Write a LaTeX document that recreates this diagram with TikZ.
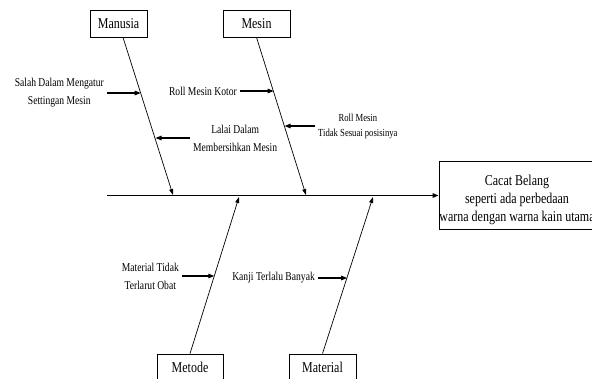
\documentclass[tikz,border=0pt]{standalone}
\usepackage{fontspec}
\setmainfont[FakeStretch=0.8]{Liberation Serif}
\usetikzlibrary{arrows.meta,calc}
\begin{document}
\begin{tikzpicture}[x=1pt,y=-1pt,
  catbox/.style={draw, line width=0.8pt, inner sep=0pt, minimum height=27pt, font=\fontsize{15}{18}\selectfont},
  effbox/.style={draw, line width=0.8pt, inner sep=0pt, align=center, minimum width=156pt, minimum height=68pt, font=\fontsize{15}{18}\selectfont},
  lab/.style={inner xsep=3pt, inner ysep=0pt, align=center, font=\fontsize{12}{18}\selectfont},
  labs/.style={inner xsep=3pt, inner ysep=0pt, align=center, font=\fontsize{10.8}{15}\selectfont},
  bone/.style={line width=0.7pt, -{Triangle[length=6pt,width=4pt]}},
  cause/.style={line width=1.1pt, -{Triangle[length=6pt,width=4.5pt]}},
  spine/.style={line width=1.3pt, -{Triangle[length=6pt,width=4.5pt]}}]
\useasboundingbox (0,0) rectangle (592,378);
\clip (0,0) rectangle (592,378);
% category boxes
\node[catbox, minimum width=57pt] (manusia) at (118.5,23.5) {Manusia};
\node[catbox, minimum width=67pt] (mesin) at (256.5,23.5) {Mesin};
\node[catbox, minimum width=66pt] (metode) at (190,367.5) {Metode};
\node[catbox, minimum width=67pt] (material) at (322.5,367.5) {Material};
% effect
\node[effbox] (effect) at (517,195.5) {\rule{0pt}{19pt}Cacat Belang\\seperti ada perbedaan\\warna dengan warna kain utama};
% spine
\coordinate (sp) at (107,195.5);
\draw[spine] (sp) -- (effect.west);
% bone ends
\coordinate (maE) at (173,195);
\coordinate (meE) at (306,195);
\coordinate (mtE) at (239,197);
\coordinate (mlE) at (373,197);
\draw[bone] ([xshift=4.5pt]manusia.south) -- (maE);
\draw[bone] (mesin.south) -- (meE);
\draw[bone] (metode.north) -- (mtE);
\draw[bone] (material.north) -- (mlE);
% cause points on bones
\coordinate (c1) at (140.7,93);
\coordinate (c2) at (155.5,138);
\coordinate (c3) at (273.7,91);
\coordinate (c4) at (284.6,126);
\coordinate (c5) at (214.3,276);
\coordinate (c6) at (347.2,278);
% cause labels
\node[lab, anchor=east] (l1) at (107,93) {Salah Dalam Mengatur\\Settingan Mesin};
\node[lab, anchor=west] (l2) at (190,138) {Lalai Dalam\\Membersihkan Mesin};
\node[lab, anchor=east] (l3) at (240,91) {Roll Mesin Kotor};
\node[labs, anchor=west] (l4) at (315,126) {Roll Mesin\\Tidak Sesuai posisinya};
\node[lab, anchor=east] (l5) at (182,276) {Material Tidak\\Terlarut Obat};
\node[lab, anchor=east] (l6) at (318,278) {Kanji Terlalu Banyak};
\draw[cause] (l1) -- (c1);
\draw[cause] (l2) -- (c2);
\draw[cause] (l3) -- (c3);
\draw[cause] (l4) -- (c4);
\draw[cause] (l5) -- (c5);
\draw[cause] (l6) -- (c6);
\end{tikzpicture}
\end{document}
